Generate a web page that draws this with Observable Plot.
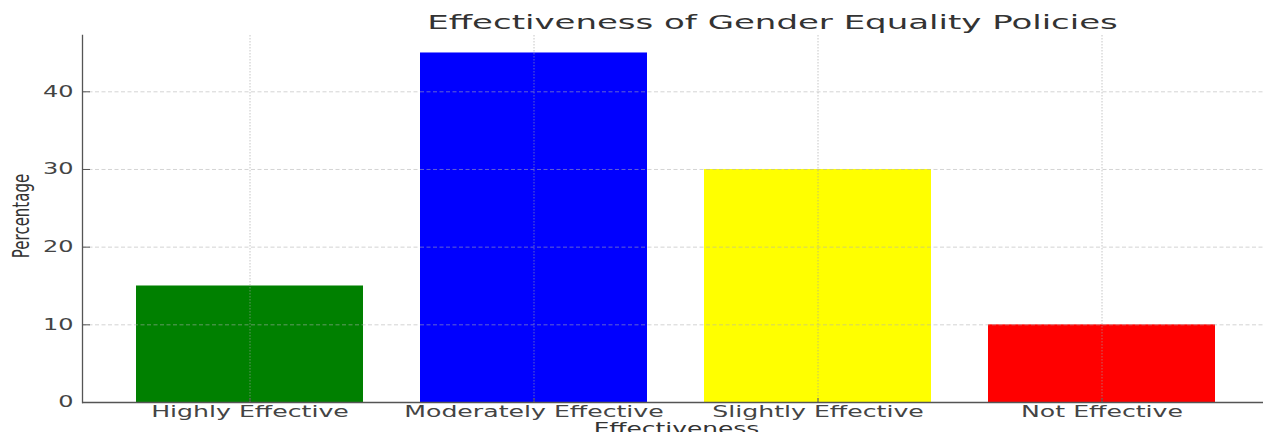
<!DOCTYPE html>
<html>
<head>
<meta charset="utf-8">
<script src="https://cdn.jsdelivr.net/npm/d3@7"></script>
<script src="https://cdn.jsdelivr.net/npm/@observablehq/plot@0.6"></script>
<style>
  html, body { margin: 0; padding: 0; background: #fff; }
  #chart svg { display: block; }
  #dbg { position: absolute; left: 100px; top: 40px; font: 11px monospace; color: #c00; }
</style>
</head>
<body>
<div id="chart"></div>
<div id="dbg"></div>
<script>
const categories = ["Highly Effective", "Moderately Effective", "Slightly Effective", "Not Effective"];
const values = [15, 45, 30, 10];
const barColors = ["#008000", "#0000ff", "#ffff00", "#ff0000"];
const yTicks = [0, 10, 20, 30, 40];
const titleText = "Effectiveness of Gender Equality Policies";
const xLabel = "Effectiveness";
const yLabel = "Percentage";

const data = categories.map((c, i) => ({category: c, value: values[i]}));

const chart = Plot.plot({
  width: 1263,
  height: 432,
  marginLeft: 82,
  marginRight: -7,
  marginTop: 35,
  marginBottom: 30,
  style: {fontFamily: "DejaVu Sans", background: "#fff", overflow: "hidden"},
  x: {domain: categories, paddingInner: 0.2, paddingOuter: 0.19, label: null, axis: null},
  y: {domain: [0, 47.25], label: null, axis: null},
  color: {domain: categories, range: barColors},
  marks: [
    Plot.barY(data, {x: "category", y: "value", fill: "category"}),
    Plot.gridX({stroke: "#a0a0a0", strokeOpacity: 0.6, strokeDasharray: "1.5,1.5"}),
    Plot.gridY({ticks: yTicks, stroke: "#b0b0b0", strokeOpacity: 0.55, strokeDasharray: "4,2.5"}),
    Plot.ruleY([0], {stroke: "#555", strokeWidth: 1.3}),
    Plot.frame({anchor: "left", stroke: "#555", strokeWidth: 1.3}),
    Plot.axisY({ticks: yTicks, tickSize: -8, tickPadding: 17, stroke: "#555", fontSize: 15, fill: "#444", label: null}),
    Plot.axisX({tickSize: -4, tickPadding: 8, stroke: "#555", fontSize: 15, fill: "#444", label: null}),
    Plot.text([titleText], {frameAnchor: "top", dx: 96, dy: -7, lineAnchor: "bottom", fontSize: 20, fill: "#333"}),
    Plot.text([xLabel], {frameAnchor: "bottom", dy: 31, lineAnchor: "bottom", fontSize: 15, fill: "#333"}),
    Plot.text([yLabel], {frameAnchor: "left", dx: -61, dy: -3, rotate: -90, textAnchor: "middle", fontSize: 15, fill: "#333"})
  ]
});

document.getElementById("chart").appendChild(chart);

// The reference picture is horizontally stretched; widen the text glyphs to match.
function stretch(el, s) {
  const r = el.getBoundingClientRect();
  const anchor = getComputedStyle(el).textAnchor;
  const rotated = (el.getAttribute("transform") || "").includes("rotate") ||
                  (el.parentNode.getAttribute("transform") || "").includes("rotate");
  let sx = r.left + r.width / 2;
  if (!rotated && anchor === "end") sx = r.right;
  if (!rotated && anchor === "start") sx = r.left;
  const m = el.parentNode.getScreenCTM().inverse();
  const p = new DOMPoint(sx, 0).matrixTransform(m);
  const prev = el.getAttribute("transform") || "";
  el.setAttribute("transform", `translate(${p.x},0) scale(${s},1) translate(${-p.x},0) ${prev}`);
}
try {
  const yTickStrings = yTicks.map(String);
  chart.querySelectorAll("text").forEach(t => {
    const s = t.textContent;
    let f = null;
    if (s === titleText) f = 1.7;
    else if (s === xLabel) f = 1.66;
    else if (s === yLabel) f = 1.5;
    else if (categories.includes(s)) f = 1.68;
    else if (yTickStrings.includes(s)) f = 1.6;
    if (f) stretch(t, f);
  });
} catch (e) {
  document.getElementById("dbg").textContent = "ERR " + e.message;
}
</script>
</body>
</html>
